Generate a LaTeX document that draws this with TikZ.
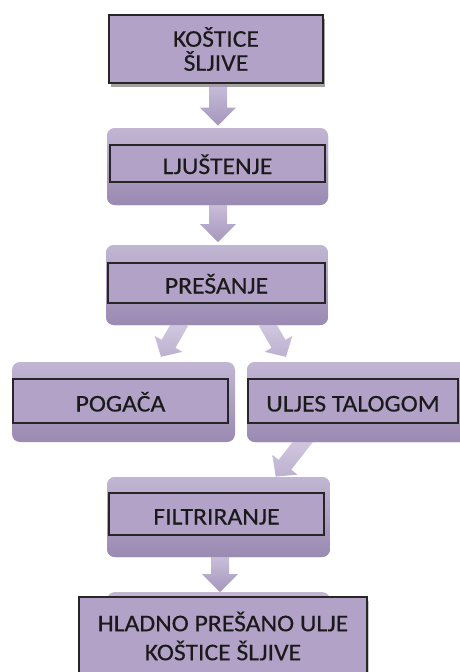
\documentclass[tikz,border=0pt]{standalone}
\usepackage{fontspec}
\setmainfont{Carlito}[FakeStretch=1.07,FakeBold=0.35]
\usetikzlibrary{shadows,calc}
\definecolor{boxfill}{HTML}{B2A2C8}
\definecolor{conttop}{HTML}{C2B6D4}
\definecolor{contbot}{HTML}{9A89B1}
\definecolor{arrtop}{HTML}{C8BED8}
\definecolor{arrbot}{HTML}{A595BD}
\definecolor{diagtop}{HTML}{D4CCE2}
\definecolor{diagbot}{HTML}{BDB1D0}
\definecolor{txt}{HTML}{1A1A1A}
\tikzset{
  container/.style={rounded corners=8pt, top color=conttop, bottom color=contbot, draw=none, inner sep=0pt},
  innerbox/.style={fill=boxfill, draw=black!85, line width=1.2pt, inner sep=0pt,
    text height=21pt, text depth=0pt, text=txt, font=\fontsize{24}{28}\selectfont},
  solidbox/.style={fill=boxfill, draw=black!85, line width=1.2pt, inner sep=0pt, text=txt, align=center,
    drop shadow={shadow xshift=2pt, shadow yshift=-4pt, opacity=0.3, fill=black!70}},
  pics/varrow/.style={code={
    \path[top color=arrtop, bottom color=arrbot]
      (-9,0) -- (9,0) -- (9,#1-18) -- (18,#1-18) -- (0,#1) -- (-18,#1-18) -- (-9,#1-18) -- cycle;}},
  pics/darrow/.style={code={
    \path[top color=diagtop, bottom color=diagbot]
      (-8,0) -- (8,0) -- (8,#1-15) -- (16,#1-15) -- (0,#1) -- (-16,#1-15) -- (-8,#1-15) -- cycle;}}
}
\begin{document}
\begin{tikzpicture}[x=1pt,y=-1pt]
\path[use as bounding box] (0,0) rectangle (460,672);
\clip (0,0) rectangle (460,672);
\fill[white] (0,0) rectangle (460,672);

% node positions
\path (216,49) coordinate (p1)
      (217.5,166.5) coordinate (p2)
      (217,285) coordinate (p3)
      (123.5,402) coordinate (p4)
      (358.5,402) coordinate (p5)
      (218.5,517) coordinate (p6)
      (218.5,632) coordinate (p7c)
      (223,636) coordinate (p7);

% containers
\node[container, minimum width=221pt, minimum height=77pt] (c2) at (p2) {};
\node[container, minimum width=222pt, minimum height=80pt] (c3) at (p3) {};
\node[container, minimum width=223pt, minimum height=80pt] (c4) at (p4) {};
\node[container, minimum width=223pt, minimum height=80pt] (c5) at (p5) {};
\node[container, minimum width=223pt, minimum height=80pt] (c6) at (p6) {};
\node[container, minimum width=223pt, minimum height=80pt] (c7) at (p7c) {};

% block arrows
\node[solidbox, minimum width=214pt, minimum height=68pt, font=\fontsize{24}{24}\selectfont] (b1) at (p1) {KOŠTICE\\ŠLJIVE};
\pic at ($(b1.south)+(2,0)$) {varrow=42};
\pic at ($(c2.south)+(0.5,0)$) {varrow=37};
\pic at ($(c6.south)+(1.5,0)$) {varrow=35};
\pic[rotate=-30] at ($(c3.south)+(-36,-3)$) {darrow=40};
\pic[rotate=30] at ($(c3.south)+(49,-3)$) {darrow=40};
\pic[rotate=-38] at ($(c5.south)+(-52,-5)$) {darrow=50};

% redraw containers over arrow tails
\node[container, minimum width=221pt, minimum height=77pt] at (p2) {};
\node[container, minimum width=222pt, minimum height=80pt] at (p3) {};
\node[container, minimum width=223pt, minimum height=80pt] at (p5) {};
\node[container, minimum width=223pt, minimum height=80pt] at (p6) {};

\node[solidbox, minimum width=214pt, minimum height=68pt, font=\fontsize{24}{24}\selectfont] at (p1) {KOŠTICE\\ŠLJIVE};

% inner boxes
\node[innerbox, minimum width=215pt, minimum height=37pt] (t2) at (217.5,163.5) {LJUŠTENJE};
\node[innerbox, minimum width=217pt, minimum height=40pt] (t3) at (216.5,283) {PREŠANJE};
\node[innerbox, minimum width=215pt, minimum height=44pt] (t4) at (120.5,401) {POGAČA};
\node[innerbox, minimum width=210pt, minimum height=44pt] (t5) at (353,401) {ULJES TALOGOM};
\node[innerbox, minimum width=215pt, minimum height=42pt] (t6) at (216.5,514) {FILTRIRANJE};

\node[solidbox, minimum width=288pt, minimum height=78pt, font=\fontsize{24}{29}\selectfont] (b7) at (p7) {HLADNO PREŠANO ULJE\\KOŠTICE ŠLJIVE};
\end{tikzpicture}
\end{document}
